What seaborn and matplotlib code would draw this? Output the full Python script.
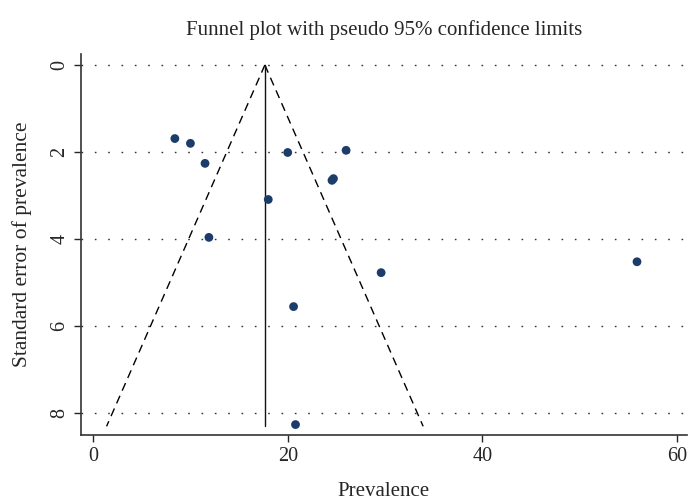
import numpy as np
import pandas as pd
import matplotlib
matplotlib.use('Agg')
import matplotlib.pyplot as plt
import seaborn as sns

# study estimates
prevalence = [8.4, 10.0, 11.5, 11.9, 18.0, 20.0, 24.55, 24.7, 26.0, 29.6, 55.9, 20.6, 20.8]
std_error = [1.69, 1.80, 2.26, 3.96, 3.09, 2.01, 2.65, 2.61, 1.96, 4.77, 4.52, 5.55, 8.26]

pooled = 17.65
se_max = 8.3

df = pd.DataFrame({'Prevalence': prevalence, 'SE': std_error})

sns.set_style('ticks')
plt.rcParams['font.family'] = ['Liberation Serif', 'DejaVu Serif']

fig = plt.figure(figsize=(6.88, 5.01), dpi=100)
ax = fig.add_axes([0.1177, 0.1317, 0.8803, 0.7603])

se_line = np.array([0, se_max])
ax.plot(pooled - 1.96 * se_line, se_line, color='black', ls=(0, (6, 4)), lw=1)
ax.plot(pooled + 1.96 * se_line, se_line, color='black', ls=(0, (6, 4)), lw=1)
ax.plot([pooled, pooled], [0, se_max], color='#111111', lw=1)

sns.scatterplot(data=df, x='Prevalence', y='SE', ax=ax, color='#1c3d69',
                s=40, edgecolor='none', zorder=3)

ax.set_xlim(-1.25, 61.0)
ax.set_ylim(8.5, -0.25)
ax.set_xticks([0, 20, 40, 60])
ax.set_yticks([0, 2, 4, 6, 8])
ax.yaxis.grid(True, ls=(0, (1.2, 8.4)), color='#333333', lw=1.0)
ax.tick_params(labelsize=14.5, length=5, width=1)
for lab in ax.get_yticklabels():
    lab.set_rotation(90)
    lab.set_va('center')
sns.despine(ax=ax)
for s in ['left', 'bottom']:
    ax.spines[s].set_color('#333333')
    ax.spines[s].set_linewidth(1.2)

ax.set_xlabel('Prevalence', fontsize=15, labelpad=12)
ax.set_ylabel('Standard error of prevalence', fontsize=15.5, labelpad=13)
ax.set_title('Funnel plot with pseudo 95% confidence limits', fontsize=15, pad=14)

fig.savefig('out.png', dpi=100)
